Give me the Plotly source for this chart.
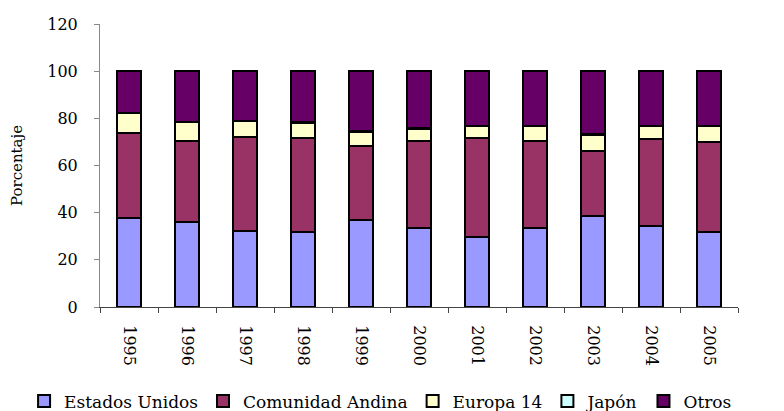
import plotly.graph_objects as go

# Participación por destino (%)
years = ['1995', '1996', '1997', '1998', '1999', '2000',
         '2001', '2002', '2003', '2004', '2005']
estados_unidos = [37.6, 36.2, 32.2, 31.9, 36.9, 33.6, 29.6, 33.6, 38.6, 34.5, 31.7]
comunidad_andina = [36.0, 34.2, 40.0, 39.6, 31.4, 36.8, 41.9, 36.9, 27.7, 36.9, 38.1]
europa_14 = [8.6, 8.0, 6.5, 6.6, 6.0, 5.2, 5.1, 6.1, 6.6, 5.3, 6.8]
japon = [0.2, 0.2, 0.2, 0.2, 0.3, 0.2, 0.2, 0.2, 0.3, 0.2, 0.2]
otros = [17.6, 21.4, 21.1, 21.7, 25.4, 24.2, 23.2, 23.2, 26.8, 23.1, 23.2]

series = [('Estados Unidos', estados_unidos, '#9999FF'),
          ('Comunidad Andina', comunidad_andina, '#993366'),
          ('Europa 14', europa_14, '#FFFFCC'),
          ('Japón', japon, '#CCFFFF'),
          ('Otros', otros, '#660066')]

font_family = 'DejaVu Serif'

fig = go.Figure()
for name, vals, col in series:
    fig.add_bar(x=years, y=vals, name=name,
                marker_color=col,
                marker_line_color='black', marker_line_width=2)

# page has an 8px body margin, so the figure is a bit smaller than the window
fig.update_layout(
    barmode='stack', bargap=0.59,
    width=776, height=403,
    margin=dict(l=92, r=46, t=16, b=104, autoexpand=False),
    plot_bgcolor='white', paper_bgcolor='white',
    font=dict(family=font_family, size=16, color='black'),
    showlegend=True,
    # x < 0 with left anchor lets the horizontal legend use the full width (one row)
    legend=dict(orientation='h',
                x=-0.119, xanchor='left',
                y=-0.27, yanchor='top',
                font=dict(size=17), itemwidth=30,
                tracegroupgap=0, traceorder='normal'))

fig.update_xaxes(
    type='category', tickangle=90,
    showline=True, linecolor='#444444', linewidth=1,
    ticks='outside', ticklen=5, tickcolor='#444444',
    tickson='boundaries', showgrid=False,
    ticklabelstandoff=14,
    tickfont=dict(size=16))

fig.update_yaxes(
    range=[0, 120], dtick=20,
    showline=True, linecolor='#888888', linewidth=1,
    ticks='outside', ticklen=5, tickcolor='#888888',
    showgrid=False, zeroline=False,
    ticklabelstandoff=13,
    title=dict(text='Porcentaje', font=dict(size=15), standoff=26),
    tickfont=dict(size=16))

fig.write_html('out.html')
